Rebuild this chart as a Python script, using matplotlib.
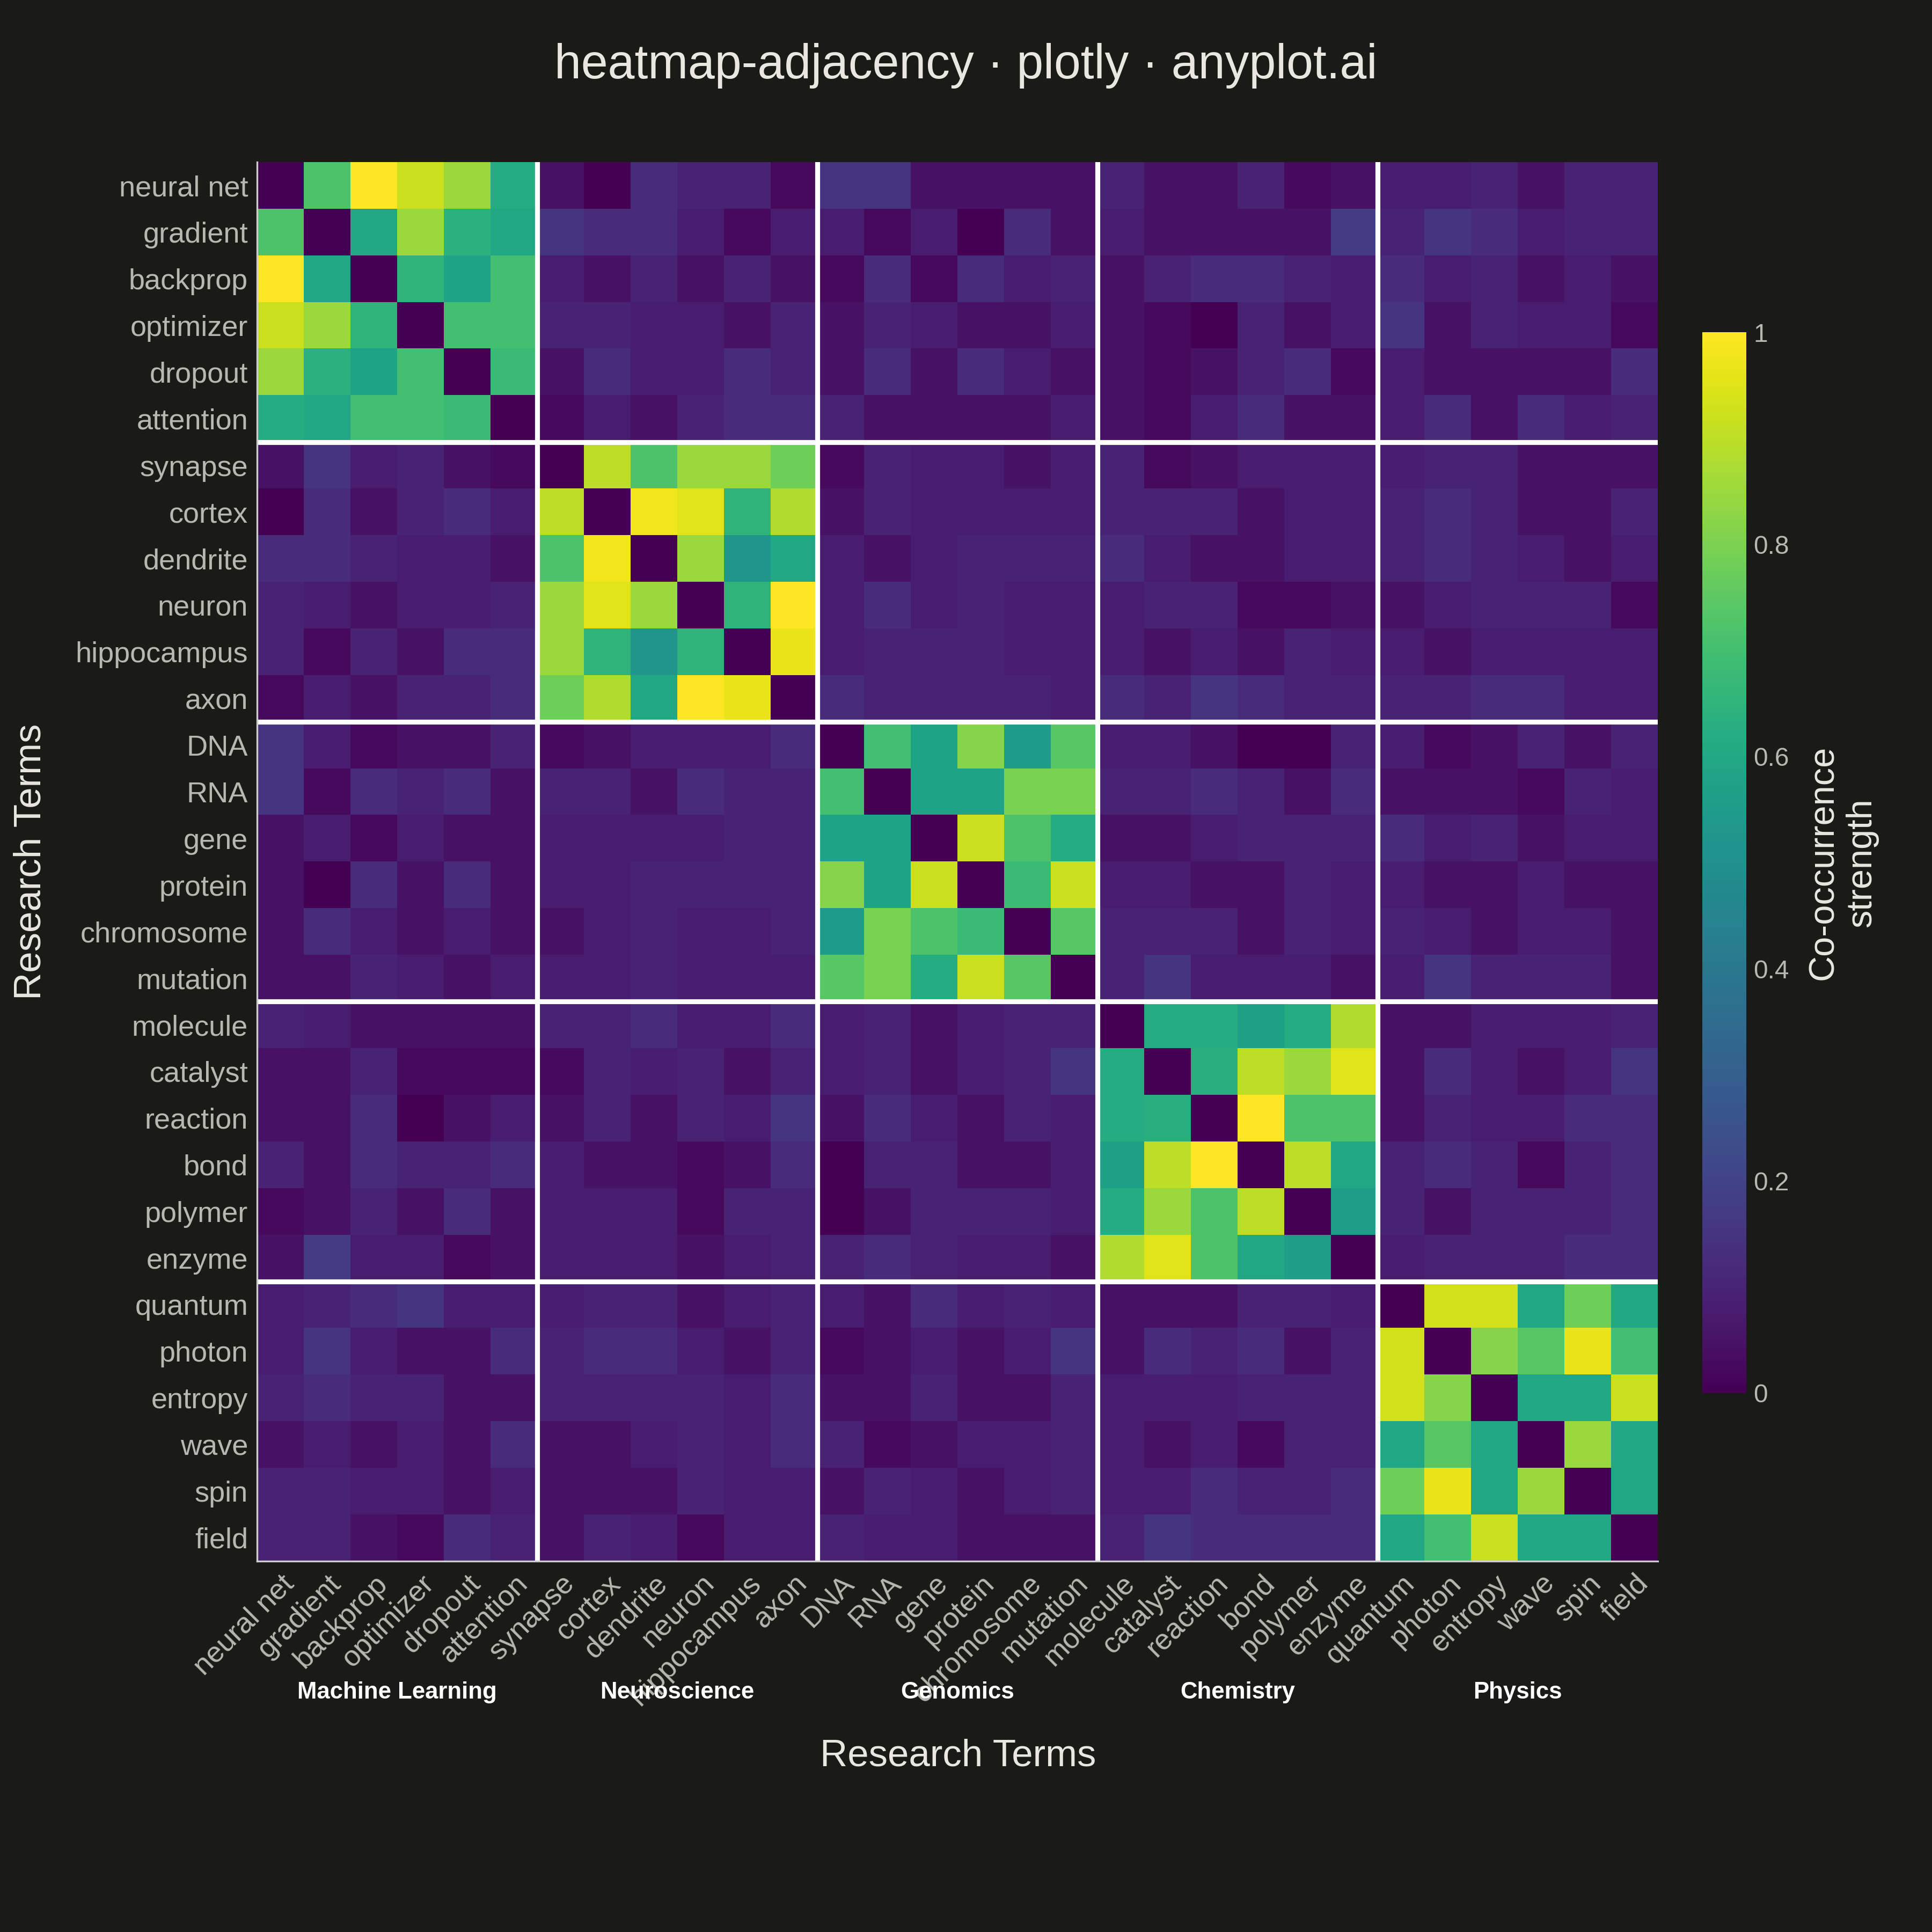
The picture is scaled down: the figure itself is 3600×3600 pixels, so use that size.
import numpy as np
import matplotlib.pyplot as plt

plt.rcParams["font.family"] = ["Liberation Sans", "DejaVu Sans"]

groups = ["Machine Learning", "Neuroscience", "Genomics", "Chemistry", "Physics"]
terms = [
    "neural net", "gradient", "backprop", "optimizer", "dropout", "attention",
    "synapse", "cortex", "dendrite", "neuron", "hippocampus", "axon",
    "DNA", "RNA", "gene", "protein", "chromosome", "mutation",
    "molecule", "catalyst", "reaction", "bond", "polymer", "enzyme",
    "quantum", "photon", "entropy", "wave", "spin", "field",
]

# within-group co-occurrence blocks
block_ml = [
    [0, .72, 1.0, .92, .85, .62],
    [.72, 0, .60, .85, .64, .60],
    [1.0, .60, 0, .65, .58, .70],
    [.92, .85, .65, 0, .70, .70],
    [.85, .64, .58, .70, 0, .68],
    [.62, .60, .70, .70, .68, 0],
]
block_neuro = [
    [0, .90, .72, .85, .85, .78],
    [.90, 0, .98, .95, .65, .88],
    [.72, .98, 0, .85, .52, .60],
    [.85, .95, .85, 0, .65, 1.0],
    [.85, .65, .52, .65, 0, .97],
    [.78, .88, .60, 1.0, .97, 0],
]
block_gen = [
    [0, .70, .58, .82, .55, .74],
    [.70, 0, .58, .58, .80, .80],
    [.58, .58, 0, .92, .72, .62],
    [.82, .58, .92, 0, .68, .92],
    [.55, .80, .72, .68, 0, .74],
    [.74, .80, .62, .92, .74, 0],
]
block_chem = [
    [0, .62, .62, .57, .62, .88],
    [.62, 0, .63, .90, .85, .95],
    [.62, .63, 0, 1.0, .72, .72],
    [.57, .90, 1.0, 0, .90, .60],
    [.62, .85, .72, .90, 0, .56],
    [.88, .95, .72, .60, .56, 0],
]
block_phys = [
    [0, .93, .93, .60, .78, .60],
    [.93, 0, .82, .74, .97, .70],
    [.93, .82, 0, .60, .60, .92],
    [.60, .74, .60, 0, .85, .60],
    [.78, .97, .60, .85, 0, .60],
    [.60, .70, .92, .60, .60, 0],
]
blocks = [block_ml, block_neuro, block_gen, block_chem, block_phys]

# weak cross-group links, one digit per cell (digit * 0.05)
cross_rows = [
    "000000103221331111211201112022",
    "000000333211101021210014233213",
    "000000212121021302133321212011",
    "000000221212121111100212312111",
    "000000131222131321111221111112",
    "000000121223111101101211121212",
    "131210000000012211201212121110",
    "021221000000221221232111221113",
    "222221000000202222211112232101",
    "211112000000232211212001122220",
    "202133000000233222101121212121",
    "021222000000322222333322323222",
    "321113101112000000121002101211",
    "313221322212000000223213111121",
    "120211121112000000112222322121",
    "102121112222000000111121101211",
    "133112112212000000223121311121",
    "112212222211000000232211232121",
    "211111223122221222000000101212",
    "111101112321121223000000222113",
    "122012121223121111000000122132",
    "222223111112022111000000232123",
    "112131222122012222000000202223",
    "132101121122222221000000223222",
    "223322222111212211101221000000",
    "232113232112111223232222000000",
    "222211332212112112211221000000",
    "212213112223201123112022000000",
    "232212112211121112222223000000",
    "211032212121322111233223000000",
]

n = len(terms)
noise = np.array([[int(c) * 0.05 for c in r] for r in cross_rows])
mat = (noise + noise.T) / 2
for g, b in enumerate(blocks):
    mat[g * 6:(g + 1) * 6, g * 6:(g + 1) * 6] = np.array(b)

bg = "#1a1a17"
fg = "#e8e8e0"
tick_c = "#b8b8b0"

fig = plt.figure(figsize=(12, 12), dpi=300, facecolor=bg)
ax = fig.add_axes([0.133, 0.192, 0.725, 0.724])
ax.set_facecolor(bg)
im = ax.imshow(mat, cmap="viridis", vmin=0, vmax=1, aspect="auto", interpolation="nearest")

ax.set_xticks(range(n))
ax.set_xticklabels(terms, rotation=45, ha="right", rotation_mode="anchor", fontsize=13, color=tick_c)
ax.set_yticks(range(n))
ax.set_yticklabels(terms, fontsize=13, color=tick_c)
ax.tick_params(length=0, pad=4)
for s in ax.spines.values():
    s.set_visible(False)
ax.spines["left"].set_visible(True)
ax.spines["bottom"].set_visible(True)
ax.spines["left"].set_color("#cccccc")
ax.spines["bottom"].set_color("#cccccc")

for k in range(1, 5):
    ax.axvline(k * 6 - 0.5, color="white", lw=2.2)
    ax.axhline(k * 6 - 0.5, color="white", lw=2.2)

for g, name in enumerate(groups):
    ax.text(g * 6 + 2.5, -0.094, name, transform=ax.get_xaxis_transform(),
            ha="center", va="center", fontsize=10.5, fontweight="bold", color="white")

fig.text(0.496, 0.091, "Research Terms", ha="center", va="center", fontsize=17, color=fg)
fig.text(0.016, 0.554, "Research Terms", ha="center", va="center", rotation=90,
         fontsize=17, color=fg)

fig.text(0.5, 0.966, "heatmap-adjacency · plotly · anyplot.ai", ha="center", va="center",
         fontsize=21.5, color=fg)

cax = fig.add_axes([0.881, 0.279, 0.023, 0.549])
cb = fig.colorbar(im, cax=cax)
cb.outline.set_visible(False)
cb.set_ticks([0, 0.2, 0.4, 0.6, 0.8, 1])
cb.set_ticklabels(["0", "0.2", "0.4", "0.6", "0.8", "1"])
cb.ax.tick_params(length=0, labelsize=11.5, labelcolor=tick_c, pad=3)
cb.set_label("Co-occurrence\nstrength", fontsize=16, color=fg, labelpad=8)

fig.savefig("out.png", dpi=300, facecolor=bg)
